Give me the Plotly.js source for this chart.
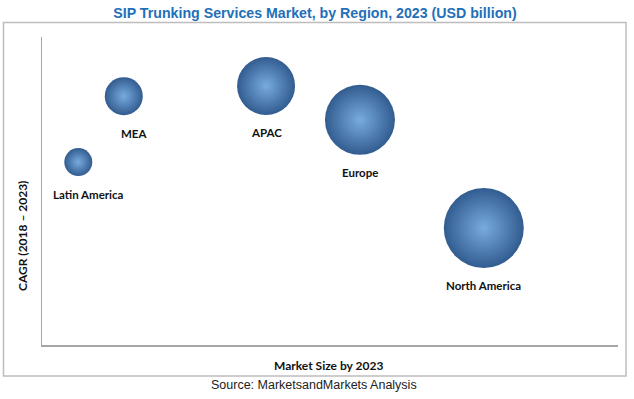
<!DOCTYPE html>
<html>
<head>
<meta charset="utf-8">
<script src="https://cdn.plot.ly/plotly-3.0.1.min.js"></script>
<style>html,body{margin:0;padding:0;background:#fff;}#chart{width:634px;height:399px;}</style>
</head>
<body>
<div id="chart"></div>
<script>
// Data (relative units, axes carry no ticks)
const regions = ["Latin America", "MEA", "APAC", "Europe", "North America"];
const marketSize2023 = [0.63, 1.42, 3.89, 5.52, 7.67];   // x position
const cagr2018_2023 = [5.94, 8.08, 8.41, 7.31, 3.80];    // y position
const bubbleSize = [28, 38, 58, 70, 80];                 // bubble diameter value

const W = 634, H = 399;
const L = 42, R = 16, T = 37, B = 54;
const pw = W - L - R, ph = H - T - B;
function px2paperX(px){ return (px - L) / pw; }
function px2paperY(py){ return (H - B - py) / ph; }

const labelFont = {family: "Lato, 'Open Sans', sans-serif", size: 11.5, color: "#111"};
const axisTitleFont = {family: "Lato, 'Open Sans', sans-serif", size: 12, color: "#111"};

const trace = {
  type: "scatter",
  mode: "markers",
  x: marketSize2023,
  y: cagr2018_2023,
  text: regions,
  hoverinfo: "text",
  marker: {
    size: bubbleSize,
    sizemode: "diameter",
    sizeref: 1,
    opacity: 1,
    color: "#325c90",
    gradient: {type: "radial", color: "#78abdf"},
    line: {width: 0}
  }
};

// labels below each bubble
const annotations = regions.map((r, i) => ({
  x: marketSize2023[i], y: cagr2018_2023[i], xref: "x", yref: "y",
  text: "<b>" + r + "</b>", showarrow: false, font: labelFont,
  xanchor: "center", yanchor: "middle",
  xshift: (i < 2 ? 10 : 0),
  yshift: -(bubbleSize[i] / 2 + 18)
}));

annotations.push({
  xref: "paper", yref: "paper", x: px2paperX(328), y: px2paperY(365),
  text: "<b>Market Size by 2023</b>", showarrow: false, font: axisTitleFont,
  xanchor: "center", yanchor: "middle"
});
annotations.push({
  xref: "paper", yref: "paper", x: px2paperX(22), y: px2paperY(236),
  text: "<b>CAGR (2018 – 2023)</b>", showarrow: false, textangle: -90, font: axisTitleFont,
  xanchor: "center", yanchor: "middle"
});
annotations.push({
  xref: "paper", yref: "paper", x: px2paperX(314), y: px2paperY(385),
  text: "Source: MarketsandMarkets Analysis", showarrow: false,
  font: {family: "'Liberation Sans', Arial, sans-serif", size: 12.5, color: "#222"},
  xanchor: "center", yanchor: "middle"
});

const layout = {
  width: W, height: H,
  margin: {l: L, r: R, t: T, b: B, pad: 0},
  paper_bgcolor: "#fff", plot_bgcolor: "#fff",
  showlegend: false,
  title: {
    text: "<b>SIP Trunking Services Market, by Region, 2023 (USD billion)</b>",
    font: {family: "'Liberation Sans', Arial, sans-serif", size: 14.2, color: "#1f6fb9"},
    x: 315 / W, xanchor: "center", xref: "container", y: 1 - 13 / H, yanchor: "middle"
  },
  xaxis: {range: [0, 10], showline: true, linecolor: "#a6a6a6", linewidth: 1.5,
          showgrid: false, zeroline: false, showticklabels: false, ticks: ""},
  yaxis: {range: [0, 10], showline: true, linecolor: "#a6a6a6", linewidth: 1.5,
          showgrid: false, zeroline: false, showticklabels: false, ticks: ""},
  shapes: [{
    type: "rect", xref: "paper", yref: "paper",
    x0: px2paperX(3.5), x1: px2paperX(626), y0: px2paperY(376), y1: px2paperY(22.5),
    line: {color: "#bdbdbd", width: 1.5}, fillcolor: "rgba(0,0,0,0)", layer: "below"
  }],
  annotations: annotations
};

Plotly.newPlot("chart", [trace], layout, {displayModeBar: false, staticPlot: true});
</script>
</body>
</html>
